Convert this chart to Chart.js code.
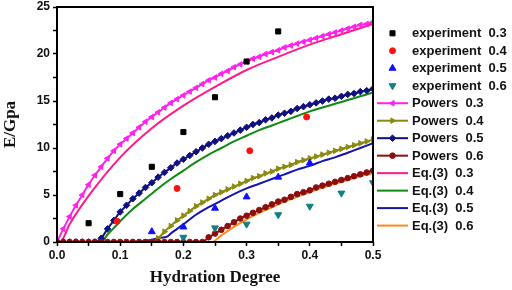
<!DOCTYPE html>
<html><head><meta charset="utf-8">
<script src="https://cdn.jsdelivr.net/npm/chart.js@4.4.1/dist/chart.umd.min.js"></script>
<style>html,body{margin:0;padding:0;background:#fff;}canvas{display:block;}</style>
</head><body>
<canvas id="c" width="512" height="290"></canvas>
<script>
// ---- data ----
const degreeGrid = [0.00,0.01,0.02,0.03,0.04,0.05,0.06,0.07,0.08,0.09,0.10,0.11,0.12,0.13,0.14,0.15,0.16,0.17,0.18,0.19,0.20,0.21,0.22,0.23,0.24,0.25,0.26,0.27,0.28,0.29,0.30,0.31,0.32,0.33,0.34,0.35,0.36,0.37,0.38,0.39,0.40,0.41,0.42,0.43,0.44,0.45,0.46,0.47,0.48,0.49,0.50];

const powers03 = [0,1.4,2.7,3.9,5.0,6.1,7.1,8.0,8.9,9.7,10.4,11.0,11.6,12.2,12.8,13.3,13.8,14.3,14.8,15.2,15.6,16.0,16.4,16.8,17.2,17.5,17.9,18.2,18.6,18.9,19.2,19.5,19.7,20.0,20.2,20.4,20.7,20.9,21.1,21.3,21.5,21.7,21.9,22.1,22.3,22.5,22.7,22.9,23.1,23.2,23.4];
const powers04 = [0,0,0,0,0,0,0,0,0,0,0,0,0,0,0,0,0.4,1.1,1.7,2.3,2.8,3.3,3.8,4.2,4.6,5.0,5.3,5.6,5.9,6.2,6.5,6.8,7.0,7.3,7.5,7.8,8.0,8.2,8.5,8.7,8.9,9.1,9.3,9.5,9.7,9.9,10.1,10.3,10.5,10.7,10.9];
const powers05 = [0,0,0,0,0,0,0,0.4,1.4,2.3,3.2,3.9,4.6,5.2,5.8,6.3,6.9,7.4,7.9,8.4,8.8,9.2,9.6,10.0,10.4,10.7,11.0,11.3,11.6,11.9,12.2,12.5,12.7,13.0,13.2,13.5,13.7,13.9,14.2,14.4,14.6,14.8,15.0,15.2,15.3,15.5,15.7,15.8,16.0,16.1,16.3];
const powers06 = [0,0,0,0,0,0,0,0,0,0,0,0,0,0,0,0,0,0,0,0,0,0,0,0,0.5,0.9,1.3,1.7,2.1,2.5,2.8,3.1,3.4,3.7,4.0,4.3,4.5,4.8,5.1,5.3,5.5,5.8,6.0,6.2,6.4,6.6,6.8,7.0,7.2,7.4,7.6];

const eq03X = [0,0.005,0.02,0.05,0.1,0.15,0.2,0.25,0.3,0.35,0.4,0.45,0.5];
const eq03Y = [0,0,1.9,4.9,9.0,12.1,14.5,16.5,18.3,19.7,21.0,22.1,23.2];
const eq04X = [0,0.07,0.08,0.09,0.1,0.12,0.14,0.16,0.18,0.2,0.22,0.24,0.26,0.28,0.3,0.32,0.34,0.36,0.38,0.4,0.42,0.44,0.46,0.48,0.5];
const eq04Y = [0,0,0.8,1.5,2.2,3.5,4.6,5.7,6.7,7.6,8.5,9.3,10.0,10.7,11.3,11.9,12.4,12.9,13.4,13.9,14.3,14.7,15.1,15.5,15.9];
const eq05X = [0,0.13,0.14,0.15,0.16,0.17,0.175,0.18,0.19,0.2,0.22,0.24,0.26,0.28,0.3,0.32,0.34,0.36,0.38,0.4,0.42,0.44,0.46,0.48,0.5];
const eq05Y = [0,0,0.15,0.25,0.4,0.5,0.6,0.9,1.4,1.9,2.9,3.7,4.4,5.1,5.7,6.2,6.7,7.2,7.7,8.1,8.6,9.0,9.5,10.0,10.5];
const eq06X = [0,0.245,0.26,0.28,0.3,0.32,0.34,0.36,0.38,0.4,0.42,0.44,0.46,0.48,0.5];
const eq06Y = [0,0,0.7,1.6,2.4,3.1,3.7,4.3,4.8,5.3,5.8,6.2,6.6,7.0,7.3];

const exp03X = [0.05,0.10,0.15,0.20,0.25,0.30,0.35];
const exp03Y = [2.0,5.1,8.0,11.7,15.4,19.2,22.4];
const exp04X = [0.095,0.19,0.305,0.395];
const exp04Y = [2.2,5.7,9.7,13.3];
const exp05X = [0.15,0.20,0.25,0.30,0.35,0.40];
const exp05Y = [1.1,1.6,3.6,4.8,6.9,8.4];
const exp06X = [0.20,0.25,0.30,0.35,0.40,0.45,0.50];
const exp06Y = [0.5,1.5,1.9,2.9,3.8,5.2,6.3];

const xTicks = [0,0.1,0.2,0.3,0.4,0.5];
const yTicks = [0,5,10,15,20,25];
const legendLabels = ['experiment  0.3','experiment  0.4','experiment  0.5','experiment  0.6',
  'Powers  0.3','Powers  0.4','Powers  0.5','Powers  0.6',
  'Eq.(3)  0.3','Eq.(3)  0.4','Eq.(3)  0.5','Eq.(3)  0.6'];

// ---- build ----
function pairs(xs, ys){ const out=[]; for(let i=0;i<xs.length;i++){ if(ys[i]!==null && ys[i]!==undefined) out.push({x:xs[i], y:ys[i]}); } return out; }

function expSet(label, xs, ys, color, style, radius, rotation, order){
  return {label, data:pairs(xs,ys), showLine:false, pointStyle:style, pointRadius:radius, pointRotation:rotation||0,
    backgroundColor:color, borderColor:color, pointBorderWidth:1, order};
}
function powSet(label, ys, color, style, radius, rotation, order){
  return {label, data:pairs(degreeGrid, ys), showLine:true, borderColor:color, backgroundColor:color, borderWidth:2,
    pointStyle:style, pointRadius:radius, pointRotation:rotation||0, pointBorderWidth:1, cubicInterpolationMode:'monotone', order};
}
function eqSet(label, xs, ys, color, order){
  return {label, data:pairs(xs, ys), showLine:true, borderColor:color, backgroundColor:color, borderWidth:2,
    pointRadius:0, cubicInterpolationMode:'monotone', order};
}

const datasets = [
  expSet(legendLabels[0], exp03X, exp03Y, '#000000', 'rect', 3.6, 0, 0),
  expSet(legendLabels[1], exp04X, exp04Y, '#ff1010', 'circle', 3, 0, 0),
  expSet(legendLabels[2], exp05X, exp05Y, '#1010ff', 'triangle', 4, 0, 0),
  expSet(legendLabels[3], exp06X, exp06Y, '#108080', 'triangle', 4, 180, 0),
  powSet(legendLabels[4], powers03, '#ff22ee', 'triangle', 3.2, -90, 4),
  powSet(legendLabels[5], powers04, '#8a8a10', 'triangle', 3.2, 90, 3),
  powSet(legendLabels[6], powers05, '#101080', 'rectRot', 3.3, 0, 2),
  powSet(legendLabels[7], powers06, '#8b0f0f', 'circle', 2.8, 0, 1),
  eqSet(legendLabels[8], eq03X, eq03Y, '#ff1a8c', 5),
  eqSet(legendLabels[9], eq04X, eq04Y, '#108a10', 5),
  eqSet(legendLabels[10], eq05X, eq05Y, '#1515a8', 5),
  eqSet(legendLabels[11], eq06X, eq06Y, '#ff8a1a', 6)
];

function drawMarker(ctx, ds, x, y){
  const opts = {pointStyle: ds.pointStyle, radius: ds.pointRadius, rotation: ds.pointRotation||0, borderWidth: 1};
  ctx.save();
  ctx.fillStyle = ds.backgroundColor; ctx.strokeStyle = ds.borderColor; ctx.lineWidth = 1;
  if (Chart.helpers && Chart.helpers.drawPoint) { Chart.helpers.drawPoint(ctx, opts, x, y); }
  else { ctx.beginPath(); ctx.arc(x,y,ds.pointRadius,0,Math.PI*2); ctx.fill(); }
  ctx.restore();
}

const framePlugin = {
  id:'frameLegend',
  afterDraw(chart){
    const {ctx, chartArea:a} = chart;
    ctx.save();
    ctx.strokeStyle = '#000'; ctx.lineWidth = 2;
    ctx.strokeRect(a.left, a.top, a.right - a.left, a.bottom - a.top);
    // legend
    const x0 = 377, x1 = 408, tx = 412, y0 = 33.3, dy = 17.48;
    ctx.font = 'bold 13px "Liberation Sans", Arial, sans-serif';
    ctx.textBaseline = 'middle'; ctx.textAlign = 'left'; ctx.fillStyle = '#111';
    chart.data.datasets.forEach((ds, i) => {
      const y = y0 + i*dy;
      if (ds.showLine) {
        ctx.beginPath(); ctx.strokeStyle = ds.borderColor; ctx.lineWidth = 2;
        ctx.moveTo(x0, y); ctx.lineTo(x1, y); ctx.stroke();
      }
      if (ds.pointRadius > 0) drawMarker(ctx, ds, 392.5, y);
      ctx.fillStyle = '#111';
      ctx.fillText(ds.label, tx, y + 0.5);
    });
    ctx.restore();
  }
};

function isMajor(v, step){ const r = v/step; return Math.abs(r - Math.round(r)) < 1e-6; }

new Chart(document.getElementById('c'), {
  type:'scatter',
  data:{datasets},
  options:{
    responsive:false, animation:false, devicePixelRatio:1,
    layout:{padding:{left:0, right:139, top:7, bottom:0}},
    plugins:{legend:{display:false}, tooltip:{enabled:false}},
    scales:{
      x:{type:'linear', min:xTicks[0], max:xTicks[xTicks.length-1],
        afterFit(s){ s.height = 48; s.paddingLeft = 0; s.paddingRight = 0; },
        border:{display:false},
        grid:{drawOnChartArea:false, tickLength:4, tickColor:'#000', tickWidth:1.5},
        ticks:{stepSize:0.05, padding:2, color:'#111', font:{family:'"Liberation Sans", Arial, sans-serif', size:12, weight:'bold'},
          maxRotation:0, autoSkip:false,
          callback(v){ return isMajor(v, 0.1) && xTicks.some(t => Math.abs(t - v) < 1e-6) ? v.toFixed(1) : ''; }},
        title:{display:true, text:'Hydration Degree', color:'#111', padding:{top:0, bottom:2},
          font:{family:'"Liberation Serif", "Times New Roman", serif', size:17, weight:'bold'}}
      },
      y:{type:'linear', min:yTicks[0], max:yTicks[yTicks.length-1],
        afterFit(s){ s.width = 57; s.paddingTop = 0; s.paddingBottom = 0; },
        border:{display:false},
        grid:{drawOnChartArea:false, tickLength:4, tickColor:'#000', tickWidth:1.5},
        ticks:{stepSize:2.5, padding:3, color:'#111', font:{family:'"Liberation Sans", Arial, sans-serif', size:12, weight:'bold'},
          autoSkip:false,
          callback(v){ return yTicks.some(t => Math.abs(t - v) < 1e-6) ? String(v) : ''; }},
        title:{display:true, text:'E/Gpa', color:'#111', padding:{top:0, bottom:0},
          font:{family:'"Liberation Serif", "Times New Roman", serif', size:17, weight:'bold'}}
      }
    }
  },
  plugins:[framePlugin]
});
</script>
</body></html>
